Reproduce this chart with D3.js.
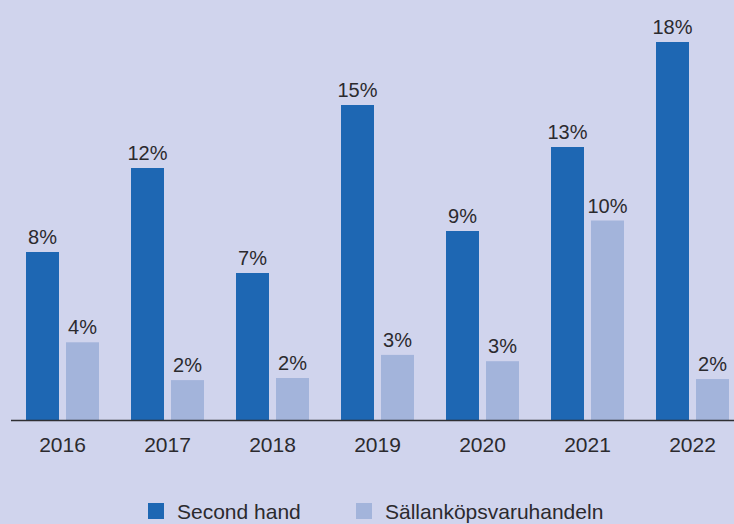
<!DOCTYPE html>
<html>
<head>
<meta charset="utf-8">
<script src="https://cdn.jsdelivr.net/npm/d3@7"></script>
<style>
  html, body { margin: 0; padding: 0; background: #d0d4ed; }
  svg { display: block; font-family: "Liberation Sans", Arial, Helvetica, sans-serif; }
</style>
</head>
<body>
<div id="chart"></div>
<script>
// Annual growth, second hand vs. durable-goods retail (Sällanköpsvaruhandeln), per cent
const years = ["2016", "2017", "2018", "2019", "2020", "2021", "2022"];
const seriesNames = ["Second hand", "Sällanköpsvaruhandeln"];
const secondHand = [8, 12, 7, 15, 9, 13, 18];
const sallankop = [3.7, 1.9, 2.0, 3.1, 2.8, 9.5, 1.95];

const W = 734, H = 524;
const colors = { "Second hand": "#1e67b3", "Sällanköpsvaruhandeln": "#a3b4db" };
const textColor = "#2b2a2e";

const rows = years.map((y, i) => ({
  year: y,
  values: [
    { key: seriesNames[0], value: secondHand[i] },
    { key: seriesNames[1], value: sallankop[i] }
  ]
}));

const svg = d3.select("#chart").append("svg")
  .attr("width", W).attr("height", H);

svg.append("rect").attr("width", W).attr("height", H).attr("fill", "#d0d4ed");

const baseY = 420;
const x = d3.scaleBand().domain(years).range([10, 745])
  .paddingInner(32 / 105).paddingOuter(16 / 105);
const xs = d3.scaleBand().domain(seriesNames).range([0, x.bandwidth()])
  .paddingInner(0.175).paddingOuter(0);
const y = d3.scaleLinear().domain([0, 20]).range([baseY, 0]);

const fmt = v => Math.round(v) + "%";

const groups = svg.append("g").selectAll("g").data(rows).join("g")
  .attr("transform", d => `translate(${x(d.year)},0)`);

groups.selectAll("rect").data(d => d.values).join("rect")
  .attr("x", d => xs(d.key))
  .attr("y", d => y(d.value))
  .attr("width", xs.bandwidth())
  .attr("height", d => y(0) - y(d.value))
  .attr("fill", d => colors[d.key]);

groups.selectAll("text.val").data(d => d.values).join("text")
  .attr("class", "val")
  .attr("x", d => xs(d.key) + xs.bandwidth() / 2)
  .attr("y", d => y(d.value) - 8)
  .attr("text-anchor", "middle")
  .attr("font-size", 20)
  .attr("fill", textColor)
  .text(d => fmt(d.value));

// baseline
svg.append("line")
  .attr("x1", 11).attr("x2", W)
  .attr("y1", baseY + 0.5).attr("y2", baseY + 0.5)
  .attr("stroke", "#2f2f33").attr("stroke-width", 1.3);

// year axis
const xAxis = d3.axisBottom(x).tickSize(0).tickPadding(0);
const ax = svg.append("g").attr("transform", `translate(0,${baseY})`).call(xAxis);
ax.select(".domain").remove();
ax.selectAll("text")
  .attr("dy", null)
  .attr("y", 32)
  .attr("font-size", 21)
  .attr("font-family", "\"Liberation Sans\", Arial, sans-serif")
  .attr("fill", textColor);

// legend
const legendX = [148, 356];
const legend = svg.append("g").selectAll("g").data(seriesNames).join("g")
  .attr("transform", (d, i) => `translate(${legendX[i]},503)`);
legend.append("rect").attr("width", 16).attr("height", 16)
  .attr("fill", d => colors[d]);
legend.append("text").attr("x", 29).attr("y", 15.5)
  .attr("font-size", 21).attr("fill", textColor)
  .text(d => d);
</script>
</body>
</html>
